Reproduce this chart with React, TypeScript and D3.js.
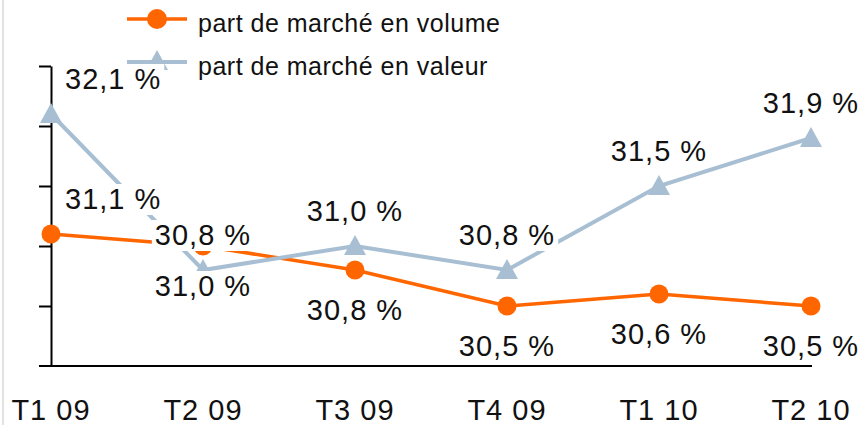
import { useEffect, useRef } from "react";
import * as d3 from "d3";

const categories = ["T1 09", "T2 09", "T3 09", "T4 09", "T1 10", "T2 10"];
const volume = [31.1, 31.0, 30.8, 30.5, 30.6, 30.5];
const valeur = [32.1, 30.8, 31.0, 30.8, 31.5, 31.9];
const yTicks = [30.5, 31, 31.5, 32, 32.5];
const seriesNames = ["part de marché en volume", "part de marché en valeur"];
// where each data label sits relative to its point
const volumeLabelSide = ["above", "below", "below", "below", "below", "below"];
const valeurLabelSide = ["above", "above", "above", "above", "above", "above"];

const ORANGE = "#ff6600";
const GREY = "#a8bfd3";
const FONT = "'Liberation Sans', Arial, sans-serif";

export default function App() {
  const svgRef = useRef(null);

  useEffect(() => {
    const width = 865;
    const height = 425;

    const svg = d3.select(svgRef.current).attr("width", width).attr("height", height);
    svg.selectAll("*").remove();

    const x = d3.scalePoint().domain(categories).range([51, 811]);
    const y = d3.scaleLinear().domain([30, 32.5]).range([366, 66]);

    // faint page border on the left
    svg.append("rect").attr("x", 2).attr("y", 0).attr("width", 2).attr("height", height).attr("fill", "#e2e2e2");

    // legend
    const triangle = "M0,-11L11,9L-11,9Z";
    const legend = svg.append("g").attr("font-family", FONT).attr("font-size", 25).attr("letter-spacing", 0.5);
    legend.append("line").attr("x1", 127).attr("x2", 187).attr("y1", 19).attr("y2", 19)
      .attr("stroke", ORANGE).attr("stroke-width", 3.5);
    legend.append("circle").attr("cx", 157).attr("cy", 19).attr("r", 10).attr("fill", ORANGE);
    legend.append("text").attr("x", 198).attr("y", 32).attr("fill", "#111").text(seriesNames[0]);
    legend.append("line").attr("x1", 127).attr("x2", 187).attr("y1", 62).attr("y2", 62)
      .attr("stroke", GREY).attr("stroke-width", 4);
    legend.append("path").attr("d", triangle).attr("transform", "translate(157,61)").attr("fill", GREY);
    legend.append("text").attr("x", 198).attr("y", 75).attr("fill", "#111").text(seriesNames[1]);

    // axes
    const yAxis = svg.append("g").attr("transform", `translate(${x(categories[0])},0)`)
      .call(d3.axisLeft(y).tickValues(yTicks).tickSize(12).tickSizeOuter(0).tickFormat(() => ""));
    yAxis.selectAll("path, line").attr("stroke", "#000").attr("stroke-width", 2);

    svg.append("line")
      .attr("x1", x(categories[0]) - 12).attr("x2", x(categories[categories.length - 1]) + 1)
      .attr("y1", y(30)).attr("y2", y(30))
      .attr("stroke", "#000").attr("stroke-width", 2);

    svg.append("g").selectAll("text").data(categories).enter().append("text")
      .attr("x", (d) => x(d)).attr("y", 420).attr("text-anchor", "middle")
      .attr("font-family", FONT).attr("font-size", 29).attr("letter-spacing", 1).attr("fill", "#111")
      .text((d) => d);

    const line = d3.line().x((d, i) => x(categories[i])).y((d) => y(d));

    // volume series
    svg.append("path").datum(volume).attr("d", line).attr("fill", "none")
      .attr("stroke", ORANGE).attr("stroke-width", 3.5);
    svg.append("g").selectAll("circle").data(volume).enter().append("circle")
      .attr("cx", (d, i) => x(categories[i])).attr("cy", (d) => y(d)).attr("r", 9.5).attr("fill", ORANGE);

    // value series
    svg.append("path").datum(valeur).attr("d", line).attr("fill", "none")
      .attr("stroke", GREY).attr("stroke-width", 4);
    svg.append("g").selectAll("path").data(valeur).enter().append("path")
      .attr("d", triangle)
      .attr("transform", (d, i) => `translate(${x(categories[i])},${y(d)})`)
      .attr("fill", GREY);

    // data labels with white boxes on top of everything
    const fmt = (v) => d3.format(".1f")(v).replace(".", ",") + " %";
    const labels = svg.append("g").attr("font-family", FONT).attr("font-size", 29).attr("letter-spacing", 1);
    const addLabels = (values, sides) => {
      values.forEach((v, i) => {
        const first = i === 0;
        const tx = first ? x(categories[i]) + 14 : x(categories[i]);
        const ty = sides[i] === "above" ? y(v) - 25 : y(v) + 50;
        const g = labels.append("g");
        const rect = g.append("rect").attr("fill", "#fff");
        const t = g.append("text").attr("x", tx).attr("y", ty)
          .attr("text-anchor", first ? "start" : "middle").attr("fill", "#111").text(fmt(v));
        const b = t.node().getBBox();
        rect.attr("x", b.x - 3).attr("y", ty - 25).attr("width", b.width + 6).attr("height", 31);
      });
    };
    addLabels(volume, volumeLabelSide);
    addLabels(valeur, valeurLabelSide);
  }, []);

  return <svg ref={svgRef} style={{ position: "absolute", left: 0, top: 0, background: "#fff" }}></svg>;
}
